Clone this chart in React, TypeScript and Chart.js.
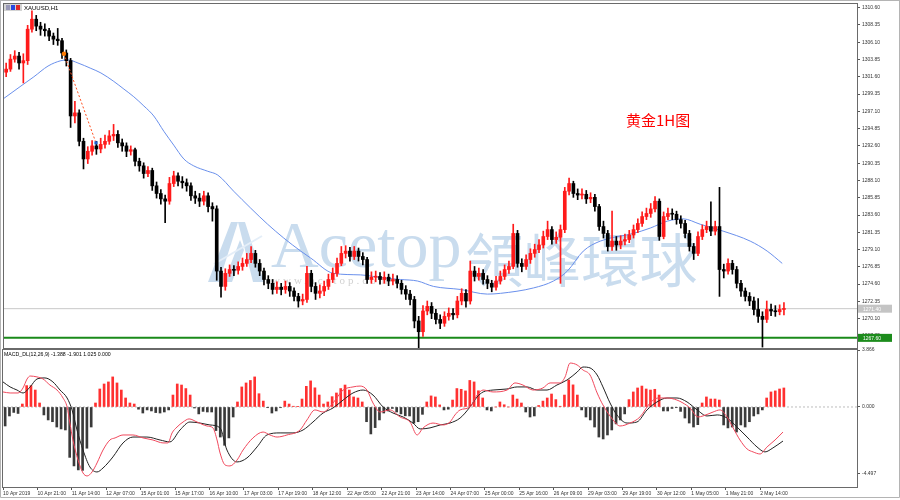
import React, { useEffect, useRef } from 'react';
import { Chart, registerables } from 'chart.js';

Chart.register(...registerables);

// ---------------- data ----------------
const symbolTitle = 'XAUUSD,H1';
const chartNote = '黄金1H图';
const macdTitle = 'MACD_DL(12,26,9) -1.388 -1.901 1.025 0.000';

// time axis (x is measured in hourly bars from the left edge)
const visibleBars = 397;
const timeTickBars = [0, 16, 32, 48, 64, 80, 96, 112, 128, 144, 160, 176, 192, 208, 224, 240, 256, 272, 288, 304, 320, 336, 352];
const timeLabels = ['10 Apr 2019', '10 Apr 21:00', '11 Apr 14:00', '12 Apr 07:00', '15 Apr 01:00', '15 Apr 17:00', '16 Apr 10:00', '17 Apr 03:00', '17 Apr 19:00', '18 Apr 12:00', '22 Apr 05:00', '22 Apr 21:00', '23 Apr 14:00', '24 Apr 07:00', '25 Apr 00:00', '25 Apr 16:00', '26 Apr 09:00', '29 Apr 03:00', '29 Apr 19:00', '30 Apr 12:00', '1 May 05:00', '1 May 21:00', '2 May 14:00'];

// price axis
const priceMin = 1266.28;
const priceMax = 1311.08;
const priceTicks = [1310.60, 1308.35, 1306.10, 1303.85, 1301.60, 1299.35, 1297.10, 1294.85, 1292.60, 1290.35, 1288.10, 1285.85, 1283.60, 1281.35, 1279.10, 1276.85, 1274.60, 1272.35, 1270.10, 1267.85];
const lastPrice = 1271.40;
const supportLevel = 1267.60;

// candles (two hourly bars each), open of a candle = close of the previous one
const firstOpen = 1302.2;
const closes = [
  1302.6, 1303.9, 1304.3, 1303.4, 1303.7, 1307.8, 1309.1, 1308.2, 1307.8, 1307.6,
  1306.9, 1306.5, 1306.3, 1304.7, 1303.7, 1296.5, 1296.9, 1293.2, 1290.9, 1291.9,
  1292.6, 1292.2, 1292.8, 1293.2, 1293.9, 1294.1, 1293.0, 1292.6, 1291.9, 1292.1,
  1290.6, 1290.0, 1289.0, 1289.4, 1287.4, 1286.4, 1285.7, 1285.4, 1287.7, 1288.7,
  1288.0, 1287.8, 1287.4, 1286.1, 1285.8, 1285.4, 1286.1, 1284.7, 1284.4, 1276.3,
  1274.3, 1276.0, 1276.5, 1276.4, 1276.9, 1277.3, 1277.8, 1278.6, 1277.3, 1276.3,
  1275.2, 1274.7, 1273.9, 1274.2, 1273.9, 1274.3, 1273.7, 1273.0, 1272.4, 1272.6,
  1276.0, 1274.3, 1273.4, 1273.7, 1274.3, 1275.2, 1276.0, 1277.3, 1278.6, 1278.9,
  1278.2, 1278.9, 1278.2, 1277.8, 1275.2, 1275.5, 1275.6, 1275.2, 1275.5, 1275.0,
  1275.2, 1274.7, 1273.9, 1273.3, 1272.6, 1269.8, 1268.4, 1271.1, 1271.7, 1270.8,
  1270.0, 1269.5, 1270.4, 1270.8, 1270.6, 1272.4, 1273.4, 1272.4, 1276.3, 1275.6,
  1276.0, 1275.2, 1274.7, 1274.2, 1275.0, 1275.6, 1276.5, 1276.9, 1281.2, 1277.3,
  1276.9, 1277.8, 1278.6, 1279.1, 1279.7, 1280.8, 1281.7, 1280.4, 1280.7, 1281.7,
  1286.7, 1287.7, 1286.4, 1286.2, 1286.3, 1285.7, 1285.9, 1284.7, 1282.1, 1281.2,
  1279.5, 1280.2, 1279.7, 1280.2, 1280.4, 1281.0, 1281.7, 1282.5, 1283.4, 1283.8,
  1284.4, 1285.4, 1280.8, 1283.4, 1283.8, 1283.7, 1283.0, 1282.5, 1281.2, 1279.5,
  1278.6, 1280.8, 1281.7, 1282.1, 1281.5, 1282.1, 1276.5, 1276.3, 1277.3, 1276.5,
  1274.7, 1273.7, 1273.0, 1272.4, 1271.3, 1270.4, 1270.0, 1271.3, 1271.1, 1271.0,
  1271.3, 1271.4,
];
const highs = [
  1303.4, 1304.5, 1305.0, 1304.8, 1304.6, 1308.3, 1310.2, 1309.6, 1308.7, 1308.5,
  1307.9, 1307.3, 1307.9, 1306.6, 1305.1, 1304.0, 1298.4, 1297.3, 1293.6, 1292.5,
  1293.3, 1293.2, 1293.6, 1294.0, 1294.6, 1295.4, 1294.6, 1293.5, 1293.0, 1292.6,
  1292.3, 1291.0, 1290.4, 1289.9, 1289.7, 1287.9, 1286.9, 1286.2, 1288.5, 1289.3,
  1289.1, 1288.6, 1288.3, 1287.8, 1286.7, 1286.4, 1286.7, 1286.5, 1285.2, 1284.8,
  1276.8, 1276.6, 1277.1, 1277.0, 1277.5, 1278.0, 1278.6, 1279.5, 1279.0, 1277.8,
  1276.7, 1275.7, 1275.2, 1274.9, 1274.7, 1275.0, 1274.8, 1274.1, 1273.4, 1273.3,
  1276.9, 1276.4, 1274.8, 1274.5, 1275.0, 1275.9, 1276.7, 1278.0, 1279.5, 1279.6,
  1279.4, 1279.5, 1279.3, 1278.7, 1278.1, 1276.2, 1276.3, 1276.1, 1276.2, 1275.9,
  1275.9, 1275.7, 1275.1, 1274.4, 1273.8, 1273.0, 1270.4, 1271.8, 1272.4, 1272.2,
  1271.3, 1270.6, 1271.0, 1271.5, 1271.4, 1273.0, 1274.0, 1273.9, 1277.6, 1276.9,
  1276.7, 1276.5, 1275.7, 1275.1, 1275.6, 1276.3, 1277.1, 1277.6, 1282.4, 1281.6,
  1277.9, 1278.4, 1279.2, 1279.8, 1280.4, 1281.5, 1282.8, 1282.1, 1281.4, 1282.3,
  1287.2, 1288.4, 1288.0, 1287.0, 1287.0, 1286.8, 1286.5, 1286.3, 1285.0, 1282.8,
  1281.6, 1284.1, 1280.8, 1280.9, 1281.1, 1281.6, 1282.3, 1283.1, 1284.0, 1284.5,
  1285.1, 1286.0, 1285.7, 1284.0, 1284.5, 1284.4, 1284.1, 1283.5, 1282.9, 1281.6,
  1279.9, 1281.4, 1282.3, 1282.8, 1285.3, 1282.8, 1287.2, 1277.2, 1277.9, 1277.7,
  1276.9, 1275.1, 1274.1, 1273.5, 1272.9, 1272.7, 1271.0, 1272.4, 1272.0, 1271.8,
  1271.9, 1272.2,
];
const lows = [
  1301.6, 1302.3, 1303.5, 1302.6, 1300.8, 1303.2, 1307.4, 1307.6, 1307.0, 1306.9,
  1306.3, 1305.8, 1305.7, 1304.0, 1303.0, 1295.0, 1295.6, 1292.6, 1289.6, 1290.3,
  1291.4, 1291.5, 1291.7, 1292.3, 1292.8, 1293.3, 1292.4, 1291.9, 1291.2, 1291.4,
  1290.0, 1289.3, 1288.4, 1288.6, 1286.8, 1285.8, 1285.0, 1282.6, 1285.0, 1287.3,
  1287.4, 1287.1, 1286.7, 1285.5, 1285.1, 1284.7, 1284.9, 1284.0, 1282.8, 1275.1,
  1272.9, 1273.8, 1275.6, 1275.7, 1275.9, 1276.4, 1276.9, 1277.4, 1276.8, 1275.7,
  1274.5, 1274.0, 1273.3, 1273.4, 1273.2, 1273.4, 1273.0, 1272.4, 1271.6, 1271.9,
  1272.2, 1273.6, 1272.6, 1272.8, 1273.1, 1273.9, 1274.8, 1275.6, 1277.0, 1278.0,
  1277.6, 1277.8, 1277.6, 1277.1, 1274.7, 1274.7, 1274.9, 1274.6, 1274.7, 1274.4,
  1274.5, 1274.1, 1273.3, 1272.6, 1271.9, 1268.9, 1266.3, 1267.8, 1270.6, 1270.1,
  1269.4, 1268.8, 1269.1, 1269.9, 1270.0, 1270.2, 1271.9, 1271.6, 1272.0, 1275.0,
  1275.1, 1274.6, 1274.0, 1273.6, 1273.8, 1274.6, 1275.2, 1276.0, 1276.6, 1276.8,
  1276.2, 1276.5, 1277.3, 1278.1, 1278.7, 1279.3, 1280.4, 1279.8, 1279.9, 1274.7,
  1281.3, 1286.2, 1285.9, 1285.6, 1285.7, 1285.1, 1285.2, 1284.1, 1281.6, 1280.6,
  1278.9, 1279.0, 1279.0, 1279.2, 1279.7, 1280.0, 1280.6, 1281.3, 1282.1, 1283.0,
  1283.3, 1284.0, 1280.3, 1280.5, 1283.0, 1283.0, 1282.4, 1281.9, 1280.6, 1278.9,
  1277.8, 1278.3, 1280.4, 1281.3, 1280.9, 1281.0, 1273.0, 1275.4, 1275.9, 1275.9,
  1274.1, 1273.0, 1272.4, 1271.8, 1270.6, 1269.6, 1266.4, 1269.6, 1270.5, 1270.4,
  1270.6, 1270.6,
];

// moving average (blue line)
const maBars = [0, 7.9, 13.9, 20.5, 26.5, 29.8, 34.4, 40.4, 45.1, 51.1, 55.8, 60.4, 65.1, 69.7, 74.4, 79, 83.7, 88.3, 94.8, 99.5, 106.9, 114.8, 122.7, 130.2, 138.1, 142.7, 153.4, 166, 176.7, 184.6, 192.5, 199.9, 212.5, 225, 231.1, 246.4, 255.7, 262.2, 269.6, 277.5, 292.9, 300.8, 308.7, 316.1, 324, 334.7, 347.3, 355.2, 362.2];
const maValues = [1298.8, 1300.4, 1301.6, 1303.0, 1303.7, 1303.8, 1303.4, 1302.7, 1302.1, 1301.0, 1300.0, 1299.0, 1297.8, 1296.5, 1294.5, 1292.7, 1290.9, 1290.0, 1289.3, 1288.8, 1286.7, 1284.5, 1282.4, 1280.6, 1278.9, 1278.0, 1276.0, 1275.8, 1275.4, 1275.2, 1275.0, 1274.3, 1273.9, 1273.3, 1273.4, 1274.1, 1275.0, 1276.3, 1278.9, 1280.2, 1281.2, 1281.9, 1282.8, 1283.1, 1282.4, 1281.5, 1280.2, 1278.9, 1277.3];

// dotted trade line
const trendBars = [27.9, 42.8];
const trendValues = [1304.6, 1293.0];

// MACD panel
const macdMin = -5.43;
const macdMax = 3.866;
const macdTicks = [3.866, 0, -4.497];
const histogram = [
  -1.29, -0.61, -0.37, -0.44, 0.20, 1.45, 1.45, 1.15, 0.27, -0.54,
  -0.88, -1.00, -1.36, -1.49, -1.56, -3.42, -4.00, -4.27, -4.30, -2.80,
  -1.36, 0.27, 1.22, 1.56, 1.70, 2.04, 1.63, 1.15, 0.61, 0.27,
  0.20, -0.15, -0.41, -0.20, -0.27, -0.38, -0.41, -0.34, -0.20, 0.81,
  1.56, 1.49, 1.25, 0.81, -0.07, -0.47, -0.30, -0.34, -0.34, -1.60,
  -2.04, -2.60, -2.10, -0.68, 0.34, 1.36, 1.63, 1.80, 2.04, 0.90,
  0.40, -0.05, -0.41, -0.27, -0.05, 0.40, 0.20, 0.05, 0.02, 0.54,
  1.40, 1.77, 1.30, 0.81, 0.20, 0.34, 0.70, 0.95, 1.25, 1.49,
  1.15, 0.68, 0.61, 0.34, -1.00, -1.83, -1.40, -0.88, -0.41, -0.27,
  -0.10, -0.34, -0.47, -0.60, -0.61, -1.10, -1.00, -0.50, 0.34, 0.75,
  0.68, 0.14, -0.20, -0.15, 0.47, 1.25, 1.20, 1.09, 1.80, 1.70,
  1.10, 0.61, -0.20, -0.27, 0.00, 0.34, 0.15, 0.00, 0.81, 0.54,
  0.27, -0.34, -0.68, -0.61, 0.10, 0.40, 0.61, 0.88, 0.50, 0.05,
  0.81, 1.83, 1.50, 0.81, -0.20, -0.68, -0.88, -1.36, -2.04, -2.17,
  -1.90, -1.56, -1.15, -0.88, -0.47, 0.50, 1.02, 1.29, 1.42, 1.22,
  1.15, 1.20, 0.81, -0.27, -0.27, -0.10, -0.05, -0.30, -0.75, -1.09,
  -1.36, -1.20, 0.27, 0.68, 0.54, 0.54, 0.47, -1.22, -1.42, -1.36,
  -1.70, -1.22, -1.36, -1.00, -0.61, -0.47, -0.20, 0.61, 1.02, 1.09,
  1.22, 1.29,
];
const macdBars = [0, 3.3, 7.0, 9.3, 11.2, 12.6, 15.8, 18.6, 21.8, 25.1, 27.9, 29.8, 31.1, 32.5, 34.9, 37.2, 39.1, 41.4, 43.7, 46.5, 49.7, 52.1, 55.8, 60.4, 65.1, 69.7, 74.4, 76.7, 78.6, 80.9, 83.7, 86.5, 90.2, 94.8, 97.6, 99.5, 100.9, 103.2, 105.5, 108.8, 111.6, 116.2, 120.9, 124.1, 127.4, 132.0, 138.1, 141.3, 145.0, 148.8, 153.4, 158.1, 162.7, 166.0, 169.2, 172.0, 175.3, 179.9, 184.6, 189.2, 192.5, 195.3, 199.9, 204.6, 207.8, 210.1, 212.5, 217.1, 220.4, 223.2, 227.8, 234.3, 238.0, 241.7, 246.4, 251.0, 254.3, 258.9, 261.3, 263.6, 266.9, 269.6, 272.9, 276.2, 278.9, 283.6, 286.8, 291.5, 296.1, 300.8, 304.5, 308.7, 313.3, 316.1, 319.4, 323.1, 325.4, 330.1, 333.3, 336.6, 339.4, 342.6, 345.9, 348.7, 351.9, 355.2, 358.9, 362.6];
const macdValues = [1.02, 0.95, 0.95, 1.29, 1.90, 2.10, 2.04, 1.90, 1.49, 1.15, 0.61, 0, -1.09, -2.24, -3.60, -4.48, -4.68, -4.41, -3.80, -2.92, -2.24, -2.10, -1.90, -1.90, -2.10, -2.24, -2.44, -2.44, -1.76, -1.36, -1.02, -0.81, -1.02, -1.29, -1.42, -2.24, -3.12, -3.93, -4.00, -3.60, -2.92, -2.10, -1.70, -1.90, -2.04, -1.90, -1.56, -0.88, -0.20, -0.34, 0.27, 1.15, 1.36, 1.42, 1.15, 0.27, -0.34, -0.20, -0.68, -1.02, -1.90, -1.42, -1.09, -1.22, -1.02, -0.54, -0.20, 0, 0.81, 1.15, 1.02, 1.15, 1.63, 1.49, 1.15, 1.29, 1.63, 1.63, 2.04, 2.98, 2.85, 2.51, 2.17, 0.95, 0.14, -0.88, -1.29, -1.09, -0.68, 0.27, 0.61, 0.61, 0.47, 0.27, -0.07, -0.68, -0.61, -0.34, -0.20, -0.68, -1.42, -2.24, -2.85, -3.05, -3.19, -2.71, -2.24, -1.70];
const signalBars = [0, 3.3, 6.5, 9.3, 12.6, 15.8, 19.5, 23.2, 26.5, 29.8, 32.1, 34.4, 37.2, 40.4, 43.7, 46.5, 51.1, 55.8, 60.4, 66.9, 73.0, 77.6, 82.3, 86.9, 91.6, 96.2, 100.9, 104.1, 108.8, 113.4, 118.1, 122.7, 128.8, 134.8, 139.5, 144.1, 148.8, 153.4, 158.1, 162.7, 167.4, 172.0, 176.7, 181.3, 186.0, 190.6, 193.9, 198.5, 203.2, 207.8, 212.5, 217.1, 220.4, 223.2, 227.8, 234.3, 239.0, 243.6, 248.3, 252.9, 257.5, 262.2, 266.9, 269.6, 272.9, 276.2, 278.9, 282.2, 285.4, 290.1, 294.7, 299.4, 304.0, 308.7, 313.3, 318.0, 322.7, 327.3, 332.0, 336.6, 341.2, 345.9, 350.5, 354.2, 357.9, 362.6];
const signalValues = [1.70, 1.36, 1.15, 0.95, 1.36, 1.90, 1.97, 1.70, 1.15, 0.61, -0.20, -1.56, -2.92, -4.07, -4.41, -4.14, -3.39, -2.44, -2.04, -2.04, -2.24, -2.37, -1.56, -1.02, -1.09, -1.22, -1.42, -2.92, -3.73, -3.46, -2.71, -1.90, -1.76, -1.76, -1.56, -1.02, -0.41, -0.07, 0.47, 0.95, 1.15, 0.81, 0, -0.41, -0.68, -1.09, -1.49, -1.42, -1.22, -1.09, -0.75, 0, 0.68, 1.02, 1.15, 1.22, 1.36, 1.36, 1.15, 1.15, 1.49, 1.83, 2.37, 2.71, 2.65, 2.17, 1.36, 0.27, -0.54, -1.09, -1.02, -0.20, 0.34, 0.61, 0.61, 0.34, -0.20, -0.61, -0.54, -0.75, -1.36, -2.04, -2.71, -3.05, -2.78, -2.31];

// ---------------- derived structures ----------------
const opens = closes.map((_, i) => (i === 0 ? firstOpen : closes[i - 1]));
const candleBars = closes.map((_, i) => 2 * i + 1);
const isUp = (i: number) => closes[i] >= opens[i];

const UP = '#ff1a1a';
const DOWN = '#000000';
const FONT = "'Liberation Sans', Arial, sans-serif";
const AXIS = '#555555';

const pts = (xs: number[], ys: number[]) => xs.map((x, i) => ({ x, y: ys[i] }));

const fixY = (s: any) => {
  s.width = 43;
  s.paddingTop = 0;
  s.paddingBottom = 0;
};

const mainDecor = {
  id: 'mainDecor',
  beforeDraw(chart: any) {
    const { ctx, width, height } = chart;
    ctx.save();
    ctx.fillStyle = '#ffffff';
    ctx.fillRect(0, 0, width, height);
    ctx.restore();
  },
  beforeDatasetsDraw(chart: any) {
    const { ctx } = chart;
    ctx.save();
    ctx.fillStyle = '#c9dcee';
    // logo mark
    ctx.beginPath();
    ctx.moveTo(208, 282); ctx.lineTo(231, 222); ctx.lineTo(238, 222); ctx.lineTo(219, 282); ctx.closePath();
    ctx.moveTo(224, 282); ctx.lineTo(240, 240); ctx.lineTo(244, 250); ctx.lineTo(232, 282); ctx.closePath();
    ctx.moveTo(238, 222); ctx.lineTo(245, 222); ctx.lineTo(264, 282); ctx.lineTo(253, 282); ctx.closePath();
    ctx.fill();
    ctx.strokeStyle = '#e4eef8';
    ctx.lineWidth = 2;
    ctx.beginPath(); ctx.moveTo(214, 264); ctx.lineTo(262, 236); ctx.stroke();
    // wordmark
    ctx.textBaseline = 'alphabetic';
    ctx.textAlign = 'left';
    ctx.font = "66px 'Liberation Serif', 'DejaVu Serif', serif";
    ctx.fillText('Acetop', 271, 267);
    const w = ctx.measureText('Acetop').width;
    ctx.font = "58px 'Noto Sans CJK TC', sans-serif";
    ctx.fillText('領峰環球', 271 + w + 4, 282);
    ctx.fillStyle = '#d2d2d2';
    ctx.font = "11px 'Liberation Serif', serif";
    (ctx as any).letterSpacing = '3px';
    ctx.fillText('www.acetop.com', 272, 284);
    (ctx as any).letterSpacing = '0px';
    ctx.restore();
  },
  afterDraw(chart: any) {
    const { ctx, chartArea: a, scales } = chart;
    ctx.save();
    // frames
    ctx.lineWidth = 1;
    ctx.strokeStyle = '#b4b4b4';
    ctx.strokeRect(0.5, 0.5, chart.width - 1, chart.height + 20);
    ctx.strokeStyle = '#6a6a6a';
    ctx.strokeRect(a.left - 0.5, a.top - 0.5, a.right - a.left + 1, a.bottom - a.top + 1);
    // symbol header
    ctx.fillStyle = '#d4d4d4';
    ctx.fillRect(4, 4, 18, 7);
    ctx.fillStyle = '#9a9ab8';
    ctx.fillRect(6, 5, 4, 5);
    ctx.fillStyle = '#2848e0';
    ctx.fillRect(11, 5, 4, 5);
    ctx.fillStyle = '#e02828';
    ctx.fillRect(16, 5, 4, 5);
    ctx.fillStyle = '#000000';
    ctx.font = `6px ${FONT}`;
    ctx.textBaseline = 'middle';
    ctx.fillText(symbolTitle, 24, 8);
    // annotation
    ctx.fillStyle = '#ff0000';
    ctx.font = "15px 'Noto Sans CJK SC', sans-serif";
    ctx.textBaseline = 'alphabetic';
    ctx.fillText(chartNote, 626, 126);
    // price boxes on the axis
    const box = (value: number, bg: string) => {
      const y = scales.y.getPixelForValue(value);
      ctx.fillStyle = bg;
      ctx.fillRect(a.right + 1, y - 4, 34, 8);
      ctx.fillStyle = '#ffffff';
      ctx.font = `5px ${FONT}`;
      ctx.textBaseline = 'middle';
      ctx.fillText(value.toFixed(2), a.right + 6, y + 0.5);
    };
    box(lastPrice, '#c4c4c4');
    box(supportLevel, '#1c8c1c');
    ctx.restore();
  },
};

const macdDecor = {
  id: 'macdDecor',
  afterDraw(chart: any) {
    const { ctx, chartArea: a } = chart;
    ctx.save();
    ctx.lineWidth = 1;
    ctx.strokeStyle = '#6a6a6a';
    ctx.strokeRect(a.left - 0.5, a.top - 0.5, a.right - a.left + 1, a.bottom - a.top + 1);
    ctx.strokeStyle = '#b4b4b4';
    ctx.beginPath();
    ctx.moveTo(0.5, 0); ctx.lineTo(0.5, chart.height - 2.5);
    ctx.lineTo(chart.width - 0.5, chart.height - 2.5); ctx.lineTo(chart.width - 0.5, 0);
    ctx.stroke();
    ctx.fillStyle = '#000000';
    ctx.font = `5.2px ${FONT}`;
    ctx.textBaseline = 'middle';
    ctx.fillText(macdTitle, 4, a.top + 5);
    ctx.restore();
  },
};

export default function App() {
  const mainRef = useRef<HTMLCanvasElement>(null);
  const macdRef = useRef<HTMLCanvasElement>(null);

  useEffect(() => {
    const main = new Chart(mainRef.current as HTMLCanvasElement, {
      type: 'bar',
      data: {
        datasets: [
          {
            type: 'line',
            data: pts(trendBars, trendValues),
            borderColor: '#ff5020',
            borderWidth: 1,
            borderDash: [2, 2],
            pointRadius: 2.2,
            pointStyle: ['circle', 'rect'],
            pointBackgroundColor: ['#ff7a00', '#1a5fd0'],
            pointBorderWidth: 0,
            order: 0,
          } as any,
          {
            type: 'bar',
            data: candleBars.map((x, i) => ({ x, y: [opens[i], closes[i]] })),
            backgroundColor: (c: any) => (isUp(c.dataIndex) ? UP : DOWN),
            barThickness: 3,
            minBarLength: 1,
            grouped: false,
            order: 1,
          } as any,
          {
            type: 'bar',
            data: candleBars.map((x, i) => ({ x, y: [lows[i], highs[i]] })),
            backgroundColor: (c: any) => (isUp(c.dataIndex) ? UP : DOWN),
            barThickness: 1,
            grouped: false,
            order: 2,
          } as any,
          {
            type: 'line',
            data: pts(maBars, maValues),
            borderColor: '#6a90ec',
            borderWidth: 1,
            pointRadius: 0,
            cubicInterpolationMode: 'monotone',
            order: 3,
          } as any,
          {
            type: 'line',
            data: [{ x: 0, y: lastPrice }, { x: visibleBars, y: lastPrice }],
            borderColor: '#c8c8c8',
            borderWidth: 1,
            pointRadius: 0,
            order: 4,
          } as any,
          {
            type: 'line',
            data: [{ x: 0, y: supportLevel }, { x: visibleBars, y: supportLevel }],
            borderColor: '#1a8a1a',
            borderWidth: 2,
            pointRadius: 0,
            order: 4,
          } as any,
        ],
      },
      options: {
        responsive: false,
        animation: false,
        events: [],
        layout: { padding: { left: 3, top: 2.6, right: 0, bottom: 1 } },
        plugins: { legend: { display: false }, tooltip: { enabled: false } },
        scales: {
          x: { type: 'linear', display: false, min: 0, max: visibleBars, offset: false, grid: { offset: false } },
          y: {
            type: 'linear',
            position: 'right',
            min: priceMin,
            max: priceMax,
            beginAtZero: false,
            afterFit: fixY,
            afterBuildTicks: (s: any) => {
              s.ticks = priceTicks.map((v) => ({ value: v }));
            },
            ticks: {
              autoSkip: false,
              padding: 2,
              color: '#333333',
              font: { family: FONT, size: 5 },
              callback: (v: any) => Number(v).toFixed(2),
            },
            grid: { drawOnChartArea: false, drawTicks: true, tickLength: 3, color: AXIS },
            border: { display: true, color: AXIS },
          },
        },
      } as any,
      plugins: [mainDecor],
    } as any);

    const macd = new Chart(macdRef.current as HTMLCanvasElement, {
      type: 'bar',
      data: {
        datasets: [
          {
            type: 'line',
            data: pts(macdBars, macdValues),
            borderColor: '#f0485c',
            borderWidth: 1,
            pointRadius: 0,
            cubicInterpolationMode: 'monotone',
            order: 1,
          } as any,
          {
            type: 'line',
            data: pts(signalBars, signalValues),
            borderColor: '#222222',
            borderWidth: 1,
            pointRadius: 0,
            cubicInterpolationMode: 'monotone',
            order: 2,
          } as any,
          {
            type: 'bar',
            data: candleBars.map((x, i) => ({ x, y: histogram[i] })),
            backgroundColor: (c: any) => (histogram[c.dataIndex] >= 0 ? '#ff3030' : '#3a3a3a'),
            barThickness: 2,
            grouped: false,
            order: 5,
          } as any,
          {
            type: 'line',
            data: [{ x: 0, y: 0 }, { x: visibleBars, y: 0 }],
            borderColor: '#bdbdbd',
            borderWidth: 1,
            borderDash: [2, 2],
            pointRadius: 0,
            order: 10,
          } as any,
        ],
      },
      options: {
        responsive: false,
        animation: false,
        events: [],
        layout: { padding: { left: 3, top: 4, right: 0, bottom: 0 } },
        plugins: { legend: { display: false }, tooltip: { enabled: false } },
        scales: {
          x: {
            type: 'linear',
            min: 0,
            max: visibleBars,
            offset: false,
            afterBuildTicks: (s: any) => {
              s.ticks = timeTickBars.map((v) => ({ value: v }));
            },
            afterFit: (s: any) => {
              s.height = 13;
              s.paddingLeft = 0;
              s.paddingRight = 0;
            },
            ticks: {
              autoSkip: false,
              maxRotation: 0,
              minRotation: 0,
              align: 'start',
              padding: 1,
              color: '#333333',
              font: { family: FONT, size: 5 },
              callback: (_v: any, i: number) => timeLabels[i],
            },
            grid: { drawOnChartArea: false, drawTicks: true, tickLength: 3, color: AXIS, offset: false },
            border: { display: true, color: AXIS },
          },
          y: {
            type: 'linear',
            position: 'right',
            min: macdMin,
            max: macdMax,
            beginAtZero: false,
            afterFit: fixY,
            afterBuildTicks: (s: any) => {
              s.ticks = macdTicks.map((v) => ({ value: v }));
            },
            ticks: {
              autoSkip: false,
              padding: 2,
              color: '#333333',
              font: { family: FONT, size: 5 },
              callback: (v: any) => Number(v).toFixed(3),
            },
            grid: { drawOnChartArea: false, drawTicks: true, tickLength: 3, color: AXIS },
            border: { display: true, color: AXIS },
          },
        },
      } as any,
      plugins: [macdDecor],
    } as any);

    return () => {
      main.destroy();
      macd.destroy();
    };
  }, []);

  return (
    <div style={{ position: 'fixed', left: 0, top: 0, width: 900, height: 500, background: '#ffffff', overflow: 'hidden' }}>
      <canvas ref={mainRef} width={900} height={352} style={{ position: 'absolute', left: 0, top: 0, display: 'block' }} />
      <canvas ref={macdRef} width={900} height={154} style={{ position: 'absolute', left: 0, top: 346, display: 'block' }} />
    </div>
  );
}
